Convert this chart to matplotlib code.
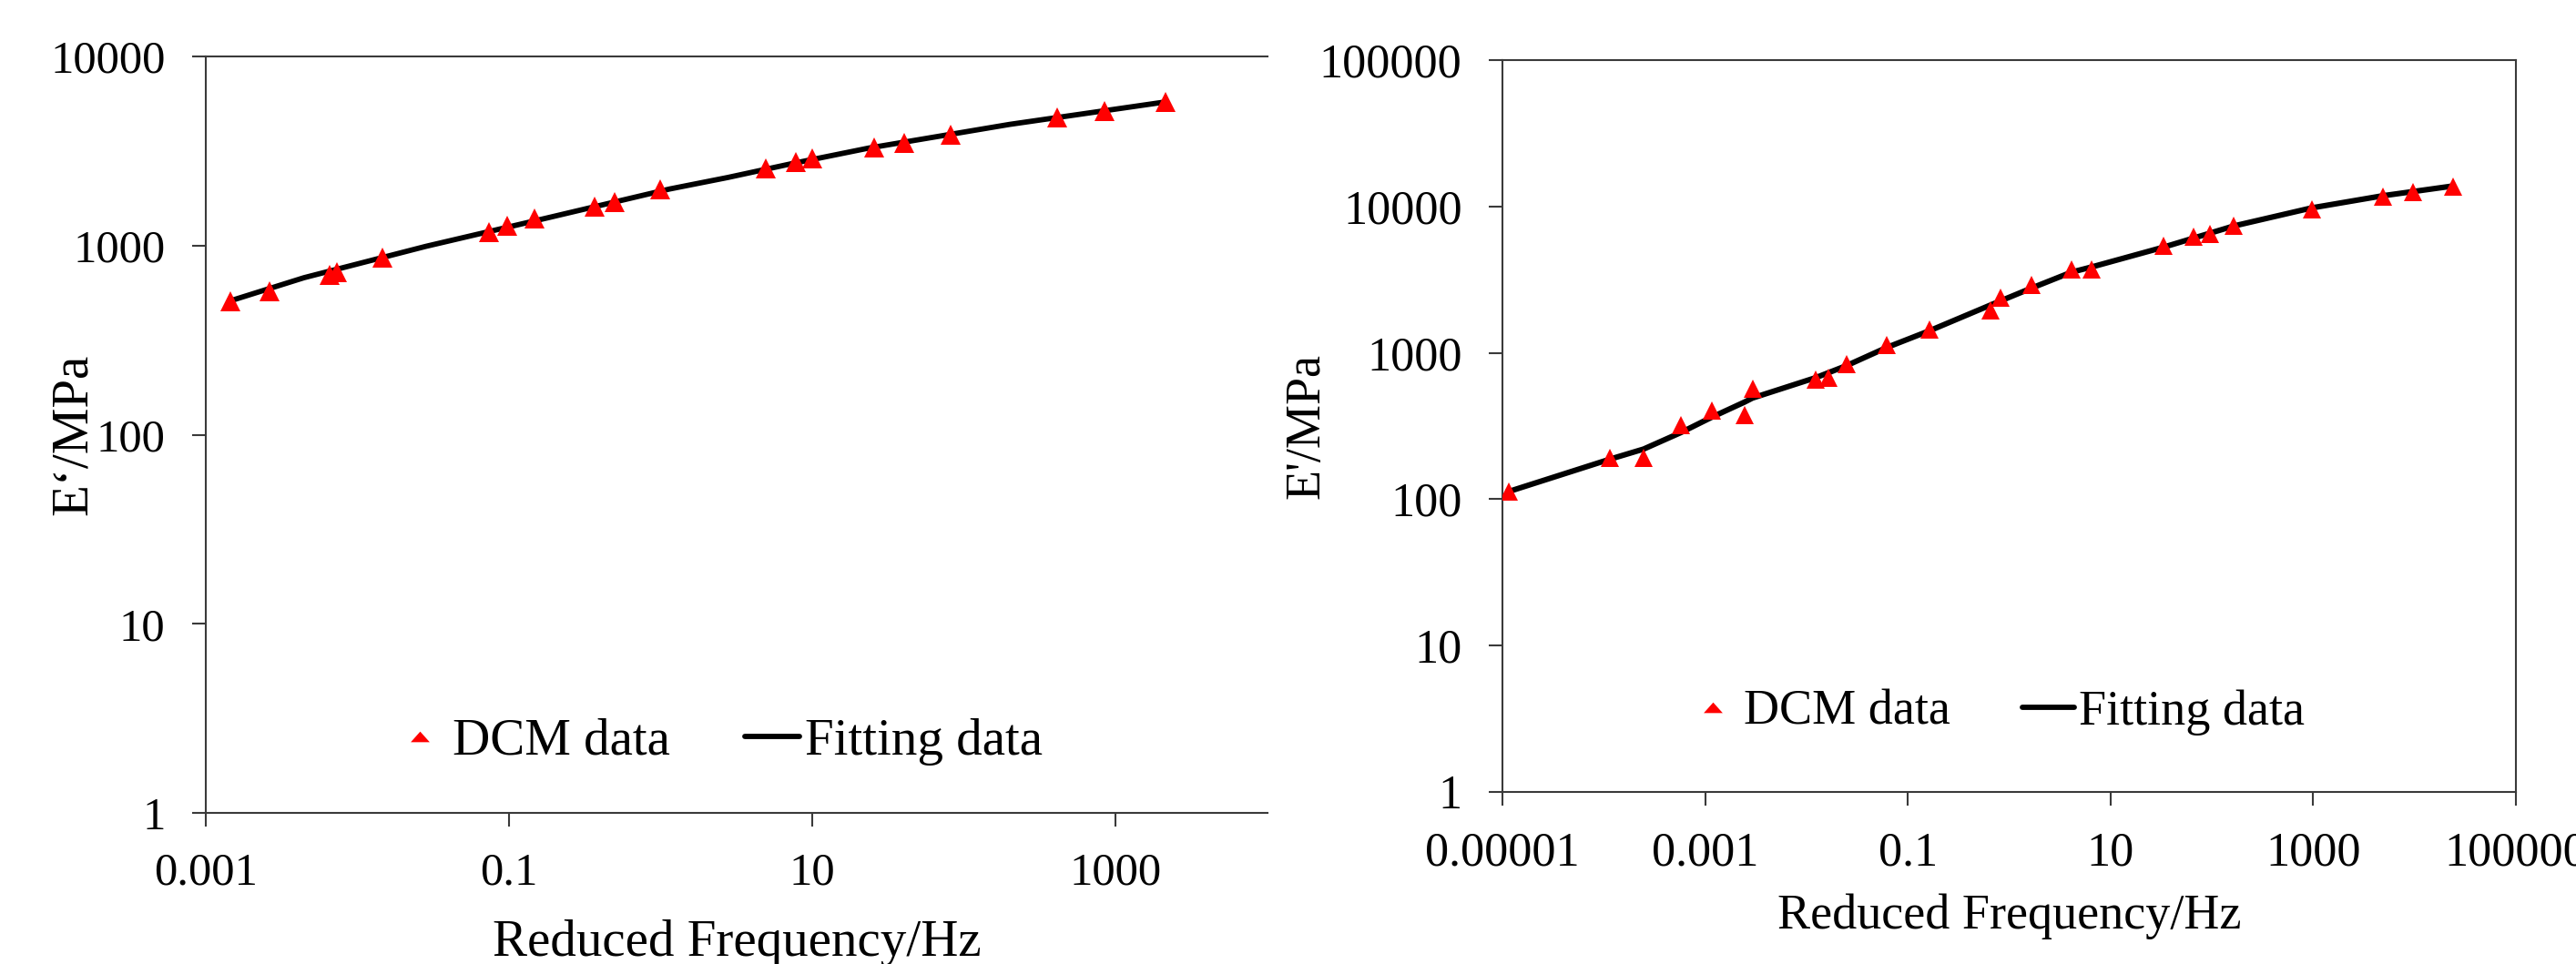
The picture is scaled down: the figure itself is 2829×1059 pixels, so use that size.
import matplotlib
matplotlib.use("Agg")
import matplotlib.pyplot as plt
from matplotlib.lines import Line2D
from matplotlib.path import Path
from matplotlib.ticker import FixedLocator, FixedFormatter, NullLocator

plt.rcParams['font.family'] = ['Liberation Serif', 'DejaVu Serif']

# ---------------- data: left panel ----------------
left_dcm_freq = [0.00145, 0.00263, 0.00655, 0.00731, 0.01466, 0.0737, 0.0977, 0.146,
                 0.366, 0.494, 0.986, 4.9, 7.78, 10.0, 25.4, 40.0, 81.3, 413, 841, 2118]
left_dcm_E = [510, 573, 700, 721, 866, 1178, 1272, 1390, 1611, 1698, 1976, 2559, 2765,
              2880, 3302, 3489, 3868, 4776, 5144, 5745]
left_fit_freq = [0.00145, 0.00444, 0.0282, 0.179, 1.14, 2.76, 7.2, 23.4, 199, 2118]
left_fit_E = [510, 676, 990, 1401, 1990, 2290, 2704, 3275, 4371, 5745]

# ---------------- data: right panel ----------------
right_dcm_freq = [1.16e-5, 1.16e-4, 2.47e-4, 5.82e-4, 1.16e-3, 2.45e-3, 2.93e-3, 0.01226,
                  0.0165, 0.0248, 0.0622, 0.164, 0.657, 0.827, 1.65, 4.12, 6.53, 33.0,
                  65.8, 95.5, 164, 970, 4860, 9680, 24000]
right_dcm_E = [113, 191, 191, 321, 402, 377, 569, 659, 678, 837, 1137, 1443, 1950, 2392,
               2922, 3729, 3698, 5364, 6216, 6515, 7411, 9550, 11670, 12530, 13720]
right_fit_freq = [1.16e-5, 1.16e-4, 2.47e-4, 5.8e-4, 1.16e-3, 2.45e-3, 2.93e-3, 0.0123,
                  0.0248, 0.062, 0.164, 0.657, 1.65, 4.12, 6.5, 33, 164, 970, 4860, 24000]
right_fit_E = [113, 188, 220, 286, 363, 461, 491, 676, 817, 1088, 1416, 2123, 2763, 3556,
               3857, 5258, 7350, 9780, 11830, 13800]

# ---------------- tick labels ----------------
left_xticks = [0.001, 0.1, 10, 1000]
left_xticklabels = ["0.001", "0.1", "10", "1000"]
left_yticks = [1, 10, 100, 1000, 10000]
left_yticklabels = ["1", "10", "100", "1000", "10000"]
right_xticks = [0.00001, 0.001, 0.1, 10, 1000, 100000]
right_xticklabels = ["0.00001", "0.001", "0.1", "10", "1000", "100000"]
right_yticks = [1, 10, 100, 1000, 10000, 100000]
right_yticklabels = ["1", "10", "100", "1000", "10000", "100000"]

legend_labels = ["DCM data", "Fitting data"]
xlabel_text = "Reduced Frequency/Hz"
left_ylabel_text = "E\u2018/MPa"
right_ylabel_text = "E'/MPa"

W, H = 2829, 1059
fig = plt.figure(figsize=(W / 100, H / 100), dpi=100)

spine_color = '#3a3a3a'
red = '#ff0000'

def px_axes(l, t, r, b):
    return fig.add_axes([l / W, 1 - b / H, (r - l) / W, (b - t) / H])

legend_marker = Path([(-1.0, -0.56), (1.0, -0.56), (0.0, 0.56), (-1.0, -0.56)],
                     [Path.MOVETO, Path.LINETO, Path.LINETO, Path.CLOSEPOLY])

def style(ax, xlim, ylim, xt, xtl, yt, ytl, tick_fs, show_right):
    ax.set_xscale('log')
    ax.set_yscale('log')
    ax.set_xlim(*xlim)
    ax.set_ylim(*ylim)
    ax.xaxis.set_major_locator(FixedLocator(xt))
    ax.xaxis.set_major_formatter(FixedFormatter(xtl))
    ax.yaxis.set_major_locator(FixedLocator(yt))
    ax.yaxis.set_major_formatter(FixedFormatter(ytl))
    ax.xaxis.set_minor_locator(NullLocator())
    ax.yaxis.set_minor_locator(NullLocator())
    for s in ax.spines.values():
        s.set_color(spine_color)
        s.set_linewidth(1.5)
    ax.spines['right'].set_visible(show_right)
    ax.tick_params(axis='both', which='major', direction='out', length=11,
                   width=1.5, color=spine_color, labelsize=tick_fs)
    ax.tick_params(axis='x', pad=20)
    ax.tick_params(axis='y', pad=21)

def add_legend(ax, fs, anchor):
    h1 = Line2D([], [], linestyle='none', marker=legend_marker, markersize=15,
                color=red, markeredgewidth=0)
    h2 = Line2D([], [], color='black', linewidth=4.2, solid_capstyle='round')
    ax.legend([h1, h2], legend_labels, loc='center', bbox_to_anchor=anchor,
              ncol=2, frameon=False, fontsize=fs, handlelength=1.05,
              handletextpad=0.1, columnspacing=1.45, borderpad=0)

# ---------------- left panel ----------------
axL = px_axes(226, 62, 1392, 893)
axL.plot(left_fit_freq, left_fit_E, color='black', linewidth=4.2, zorder=2,
         solid_joinstyle='round')
axL.plot(left_dcm_freq, left_dcm_E, linestyle='none', marker='^', markersize=15.5,
         color=red, markeredgewidth=0, zorder=3)
style(axL, (1e-3, 1e4), (1, 1e4), left_xticks, left_xticklabels,
      left_yticks, left_yticklabels, 36.5, False)
axL.set_xlabel(xlabel_text, fontsize=41, va='baseline')
axL.xaxis.set_label_coords(0.5, (893 - 1050) / 831)
axL.set_ylabel(left_ylabel_text, fontsize=41, va='baseline')
axL.yaxis.set_label_coords((95 - 226) / 1166, 0.5)
add_legend(axL, 41, (0.482, 0.094))

# ---------------- right panel ----------------
axR = px_axes(1650, 66, 2763, 870)
axR.plot(right_fit_freq, right_fit_E, color='black', linewidth=4.4, zorder=2,
         solid_joinstyle='round')
axR.plot(right_dcm_freq, right_dcm_E, linestyle='none', marker='^', markersize=15,
         color=red, markeredgewidth=0, zorder=3)
style(axR, (1e-5, 1e5), (1, 1e5), right_xticks, right_xticklabels,
      right_yticks, right_yticklabels, 37.5, True)
axR.set_xlabel(xlabel_text, fontsize=39, va='baseline')
axR.xaxis.set_label_coords(0.5, (870 - 1020) / 804)
axR.set_ylabel(right_ylabel_text, fontsize=39, va='baseline')
axR.yaxis.set_label_coords((1448 - 1650) / 1113, 0.5)
add_legend(axR, 39, (0.487, 0.109))

fig.savefig('out.png', dpi=100, facecolor='white')
